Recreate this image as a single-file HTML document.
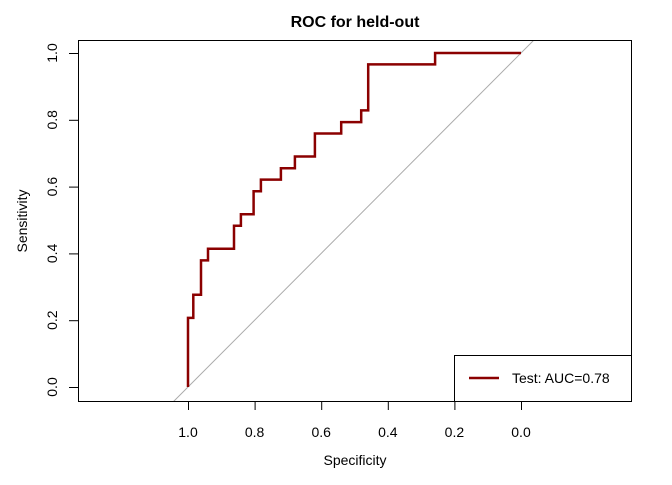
<!DOCTYPE html>
<html><head><meta charset="utf-8"><style>
body{margin:0;background:#fff}
svg text{font-family:"Liberation Sans",Arial,sans-serif;fill:#000}
</style></head><body>
<svg width="672" height="480" viewBox="0 0 672 480">
<text x="355" y="27" font-size="16" font-weight="bold" text-anchor="middle">ROC for held-out</text>
<defs><clipPath id="plotclip"><rect x="78.5" y="40.5" width="553" height="361"/></clipPath></defs>
<g id="diag" clip-path="url(#plotclip)"></g>
<g id="curve"></g>
<rect x="78.5" y="40.5" width="553" height="361" fill="none" stroke="#000" stroke-width="1"/>
<g id="xaxis"></g>
<g id="yaxis"></g>
<text x="355" y="465" font-size="14" text-anchor="middle">Specificity</text>
<text transform="translate(27,221) rotate(-90)" font-size="14" text-anchor="middle">Sensitivity</text>
<g>
<rect x="454.5" y="355.5" width="177" height="46" fill="#fff" stroke="#000"/>
<line x1="469" y1="378" x2="499" y2="378" stroke="#8b0000" stroke-width="2.5"/>
<text x="512" y="383" font-size="14">Test: AUC=0.78</text>
</g>
</svg>
<script>
const specificity=[1.0,1.0,0.984,0.984,0.961,0.961,0.940,0.940,0.862,0.862,0.841,0.841,0.803,0.803,0.781,0.781,0.721,0.721,0.679,0.679,0.619,0.619,0.540,0.540,0.480,0.480,0.459,0.459,0.258,0.258,0.0];
const sensitivity=[0.0,0.207,0.207,0.276,0.276,0.379,0.379,0.414,0.414,0.483,0.483,0.517,0.517,0.586,0.586,0.621,0.621,0.655,0.655,0.690,0.690,0.759,0.759,0.793,0.793,0.828,0.828,0.966,0.966,1.0,1.0];
const xTicks=[1.0,0.8,0.6,0.4,0.2,0.0];
const yTicks=[0.0,0.2,0.4,0.6,0.8,1.0];
const NS="http://www.w3.org/2000/svg";
const X=s=>521-s*333, Y=v=>387-v*334;
function mk(t,a,p){const e=document.createElementNS(NS,t);for(const k in a)e.setAttribute(k,a[k]);p.appendChild(e);return e;}
const diag=document.getElementById('diag');
const dl=mk('line',{x1:X(1.2),y1:Y(-0.2),x2:X(-0.2),y2:Y(1.2),stroke:'#aaa','stroke-width':1},diag);


const pts=specificity.map((s,i)=>X(s).toFixed(1)+','+Y(sensitivity[i]).toFixed(1)).join(' ');
const pl=mk('polyline',{points:pts,fill:'none',stroke:'#8b0000','stroke-width':2.5},document.getElementById('curve'));


const xa=document.getElementById('xaxis');
mk('line',{x1:X(xTicks[0]),y1:401.5,x2:X(xTicks[xTicks.length-1]),y2:401.5,stroke:'#000'},xa);
xTicks.forEach(t=>{
 const l=mk('line',{x1:X(t)+0.5,y1:401.5,x2:X(t)+0.5,y2:410,stroke:'#000'},xa);
 
 
 const tx=mk('text',{x:X(t),y:437,'font-size':14,'text-anchor':'middle'},xa);
 tx.textContent=t.toFixed(1);
 
 
});
const ya=document.getElementById('yaxis');
yTicks.forEach(t=>{
 const l=mk('line',{x1:69,y1:Y(t)+0.5,x2:78.5,y2:Y(t)+0.5,stroke:'#000'},ya);
 
 
 const tx=mk('text',{transform:`translate(57,${Y(t)}) rotate(-90)`,'font-size':14,'text-anchor':'middle'},ya);
 tx.textContent=t.toFixed(1);
 
 
});
</script>
</body></html>
